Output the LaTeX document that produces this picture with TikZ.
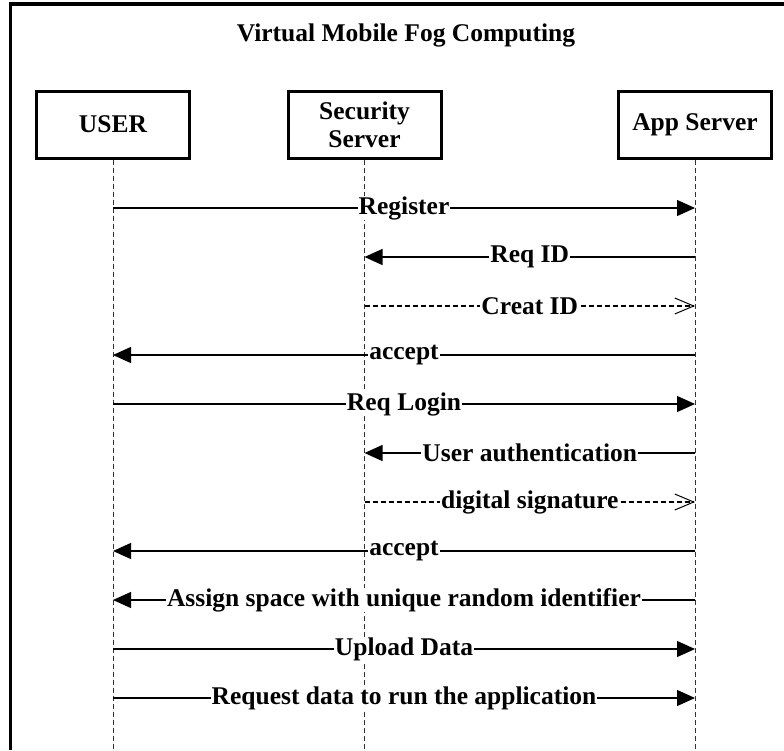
\documentclass[tikz,border=0pt]{standalone}
\usepackage{fontspec}
\setmainfont{Liberation Serif}
\usetikzlibrary{arrows.meta}

\begin{document}
\begin{tikzpicture}[x=1pt, y=-1pt, font=\bfseries\fontsize{25.5}{28}\selectfont,
	actor/.style={draw, line width=3pt, minimum width=153pt, minimum height=67pt, inner sep=0pt, align=center},
	lifeline/.style={draw=black!80, line width=0.9pt, dash pattern=on 5pt off 3pt},
	msg/.style={line width=1.2pt, -{Triangle[length=18pt, width=16pt]}},
	reply/.style={line width=1.1pt, dash pattern=on 5pt off 3pt, -{Straight Barb[length=19pt, width=16pt, line width=1pt]}},
	lbl/.style={fill=white, inner xsep=1pt, inner ysep=0pt}]
		\useasboundingbox (0, 0) rectangle (784, 750);
		\draw[line width=3.5pt] (10.5, 750) -- (10.5, 4) -- (784, 4);
		
		\node(title) at (406, 35) {Virtual Mobile Fog Computing};
		\node[actor](user) at (113, 124.5) {USER};
		\node[actor](sec) at (364.5, 124.5) {Security\\Server};
		\node[actor](app) at (695, 124.5) {App Server};
		
		\coordinate (bottom) at (0, 750);
		\draw[lifeline] (user.south) -- (user.south |- bottom);
		\draw[lifeline] (sec.south) -- (sec.south |- bottom);
		\draw[lifeline] (app.south) -- (app.south |- bottom);
		
		\coordinate (r1) at (0, 208);
		\coordinate (r2) at (0, 257);
		\coordinate (r3) at (0, 306);
		\coordinate (r4) at (0, 355);
		\coordinate (r5) at (0, 404);
		\coordinate (r6) at (0, 453);
		\coordinate (r7) at (0, 502);
		\coordinate (r8) at (0, 551);
		\coordinate (r9) at (0, 600);
		\coordinate (r10) at (0, 649);
		\coordinate (r11) at (0, 698);
		
		\draw[msg] (user |- r1) -- node[lbl](register) {Register} (app |- r1);
		\draw[msg] (app |- r2) -- node[lbl](reqid) {Req ID} (sec |- r2);
		\draw[reply] (sec |- r3) -- node[lbl](creatid) {Creat ID} (app |- r3);
		\draw[msg] (app |- r4) -- node[lbl](accept1) {accept} (user |- r4);
		\draw[msg] (user |- r5) -- node[lbl](login) {Req Login} (app |- r5);
		\draw[msg] (app |- r6) -- node[lbl](auth) {User authentication} (sec |- r6);
		\draw[reply] (sec |- r7) -- node[lbl](sign) {digital signature} (app |- r7);
		\draw[msg] (app |- r8) -- node[lbl](accept2) {accept} (user |- r8);
		\draw[msg] (app |- r9) -- node[lbl](assign) {Assign space with unique random identifier} (user |- r9);
		\draw[msg] (user |- r10) -- node[lbl](upload) {Upload Data} (app |- r10);
		\draw[msg] (user |- r11) -- node[lbl](request) {Request data to run the application} (app |- r11);
\end{tikzpicture}
\end{document}
